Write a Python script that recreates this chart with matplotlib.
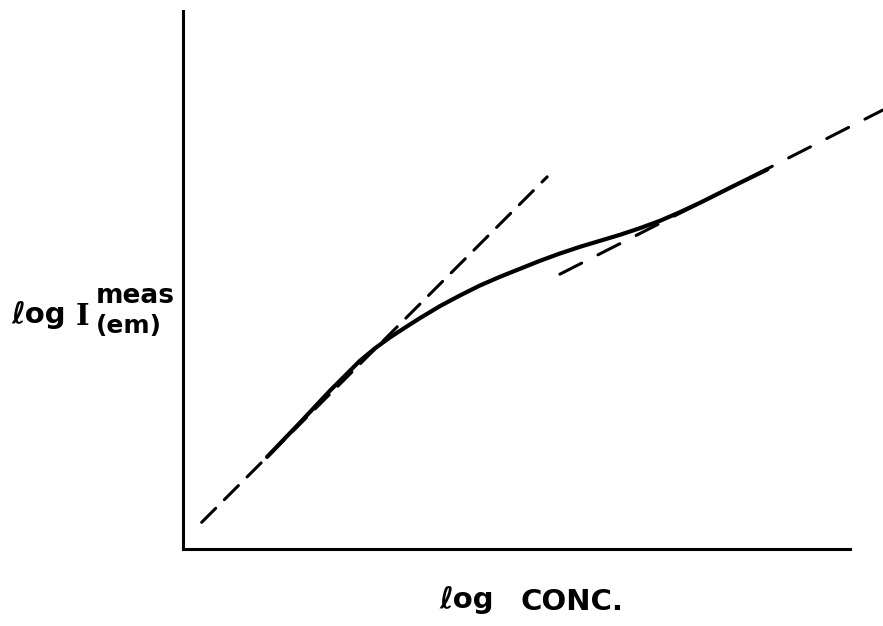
import matplotlib
matplotlib.use("Agg")
import matplotlib.pyplot as plt

# measured curve (arbitrary log units)
curve_x = [1.26, 1.75, 2.20, 2.65, 2.88, 3.10, 3.33, 3.55, 3.85, 4.15, 4.45, 4.75, 5.05,
           5.35, 5.65, 5.95, 6.25, 6.55, 6.85, 7.15, 7.45, 7.75, 8.05, 8.35, 8.76]
curve_y = [1.38, 1.89, 2.37, 2.82, 3.01, 3.17, 3.32, 3.46, 3.64, 3.80, 3.95, 4.08, 4.20,
           4.32, 4.43, 4.53, 4.62, 4.71, 4.81, 4.92, 5.05, 5.19, 5.34, 5.49, 5.69]

# low-concentration asymptote
low_x = [0.28, 5.46]
low_y = [0.40, 5.58]

# high-concentration asymptote
high_x = [5.65, 10.49]
high_y = [4.12, 6.58]

W, H = 883, 626
fig = plt.figure(figsize=(W / 100, H / 100), dpi=100)
ax = fig.add_axes([183 / W, 1 - 549 / H, (850 - 183) / W, (549 - 11) / H])
ax.set_xlim(0, 10)
ax.set_ylim(0, 538 / 66.7)

ax.plot(curve_x, curve_y, color="black", lw=3.0, solid_capstyle="round",
        solid_joinstyle="round", clip_on=False)
ax.plot(low_x, low_y, color="black", lw=2.2, linestyle=(0, (6.5, 4)),
        dash_capstyle="round", clip_on=False)
ax.plot(high_x, high_y, color="black", lw=2.2, linestyle=(0, (8, 6)),
        dash_capstyle="round", clip_on=False)

for s in ["top", "right"]:
    ax.spines[s].set_visible(False)
for s in ["left", "bottom"]:
    ax.spines[s].set_linewidth(2.2)
ax.set_xticks([])
ax.set_yticks([])

def px(x, y):
    return x / W, 1 - y / H

# y label: log I^meas_(em)
fig.text(*px(11, 323), "\u2113og", fontsize=21, fontweight="bold", va="baseline")
fig.text(*px(76, 325), "I", fontsize=21, family="DejaVu Serif", fontweight="bold", va="baseline")
fig.text(*px(96, 303), "meas", fontsize=19, fontweight="bold", va="baseline")
fig.text(*px(96, 333), "(em)", fontsize=18, fontweight="bold", va="baseline")

# x label
fig.text(*px(439, 608), "\u2113og", fontsize=21, fontweight="bold", va="baseline")
fig.text(*px(521, 610), "CONC.", fontsize=21, fontweight="bold", va="baseline")

fig.savefig("out.png", dpi=100)
